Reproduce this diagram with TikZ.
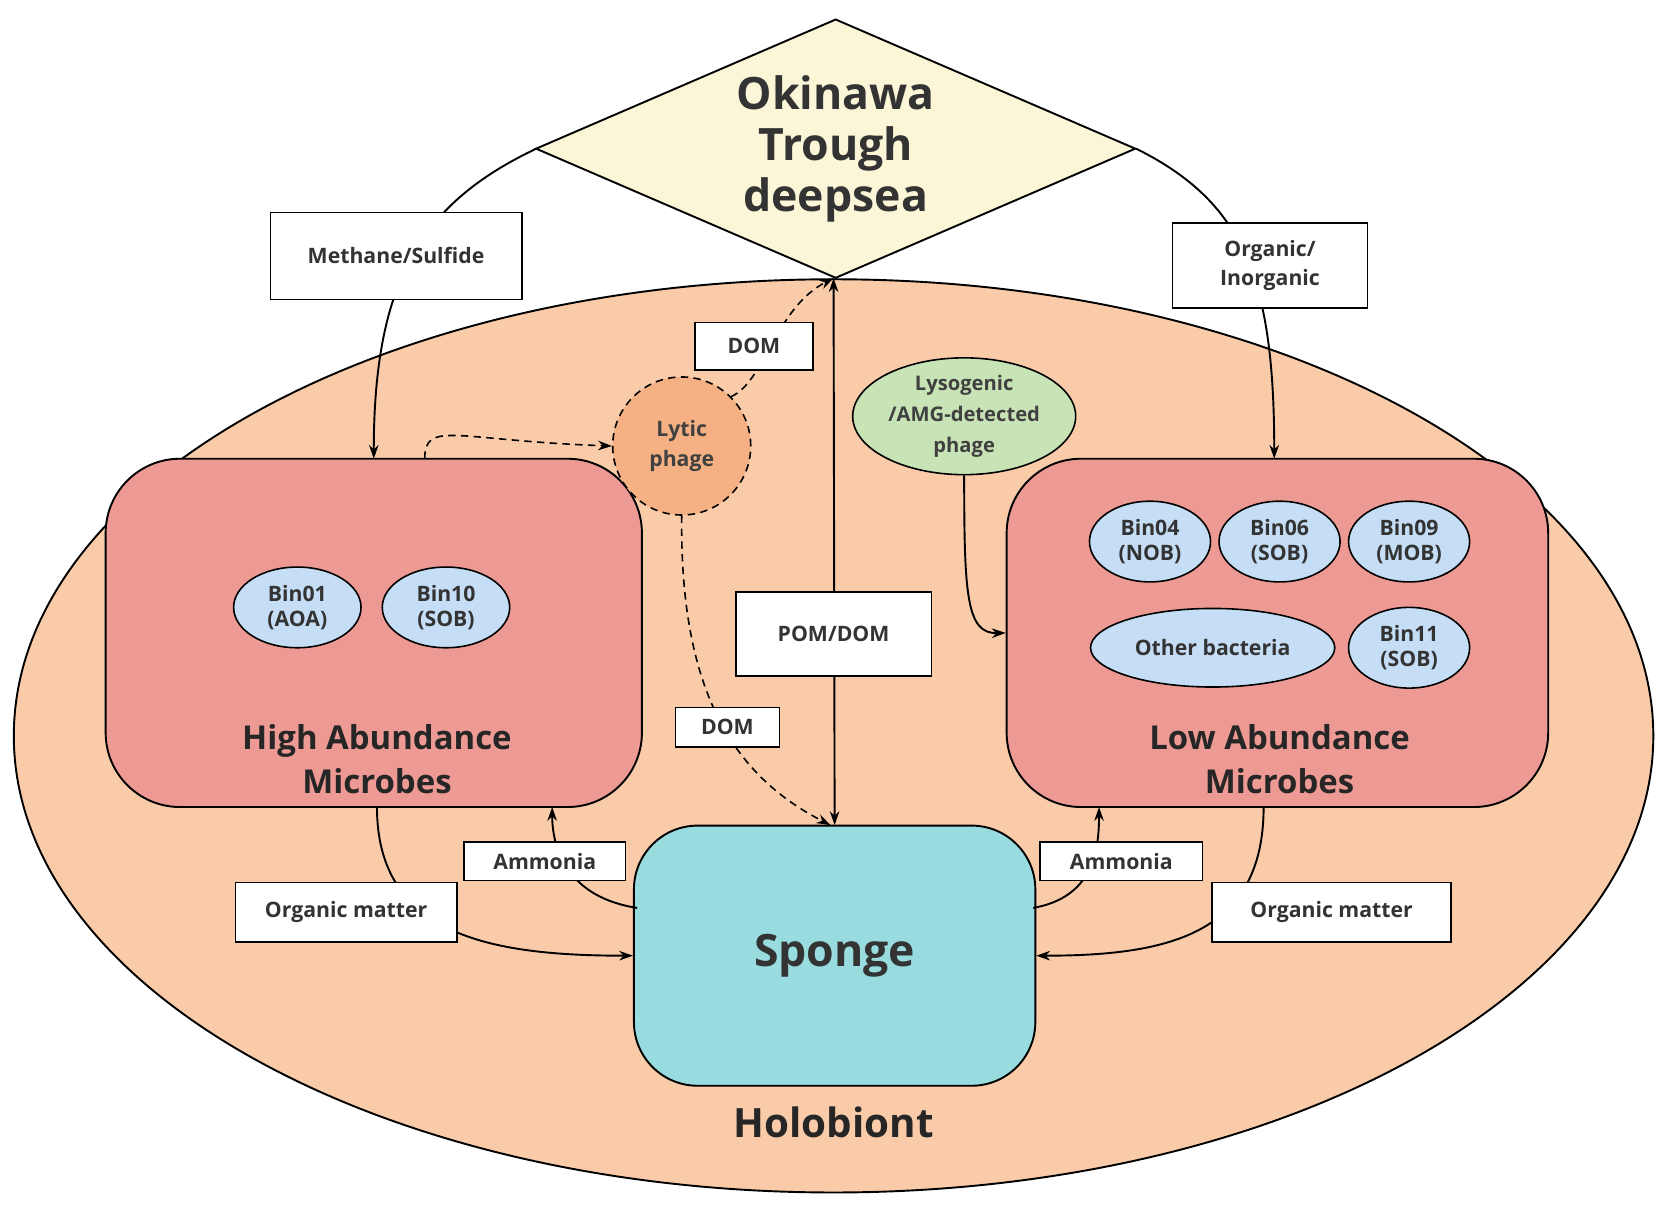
\documentclass[tikz,border=0pt]{standalone}
\usepackage{fontspec}
\setmainfont{Open Sans}
\usetikzlibrary{shapes.geometric,arrows.meta}
\definecolor{skin}{HTML}{F9CBA8}
\definecolor{boxred}{HTML}{EE9A94}
\definecolor{binblue}{HTML}{C5DDF5}
\definecolor{spng}{HTML}{98DCDF}
\definecolor{lytic}{HTML}{F5B183}
\definecolor{lyso}{HTML}{C8E4B6}
\definecolor{diam}{HTML}{FBF6D8}
\begin{document}
\begin{tikzpicture}[x=1pt,y=-1pt,line width=1.8pt,
  lab/.style={draw,fill=white,line width=1.3pt,font=\fontsize{20}{25}\selectfont\bfseries,text=black!80,inner sep=0pt,align=center},
  bin/.style={ellipse,draw,fill=binblue,line width=1.5pt,minimum width=120pt,minimum height=76pt,inner sep=0pt,align=center,font=\fontsize{20}{24}\selectfont\bfseries,text=black!80},
  arr/.style={-{Stealth[length=13pt,width=9pt]}},
  dsh/.style={dashed,dash pattern=on 7pt off 5pt,line width=1.5pt}]
\useasboundingbox (0,0) rectangle (1568,1140);
\node[ellipse,draw,fill=skin,minimum width=1544pt,minimum height=860pt] (holo) at (785,693) {};
\node[diamond,draw,fill=diam,minimum width=565pt,minimum height=244pt,inner sep=0pt] (ok) at (787,140) {};
\node[font=\fontsize{42}{48}\selectfont\bfseries,text=black!80,align=center] (okt) at (787,140) {Okinawa\\Trough\\deepsea};
\node[draw,fill=boxred,rounded corners=70pt,minimum width=505pt,minimum height=328pt] (high) at (352,596) {};
\node[draw,fill=boxred,rounded corners=70pt,minimum width=510pt,minimum height=328pt] (low) at (1203,596) {};
\node[draw,fill=spng,rounded corners=60pt,minimum width=378pt,minimum height=245pt] (sp) at (786,900) {};
\node[font=\fontsize{42}{48}\selectfont\bfseries,text=black!80] (spt) at (786,900) {Sponge};
\node[font=\fontsize{38}{44}\selectfont\bfseries,text=black!85] (hb) at (785,1057) {Holobiont};
\node[font=\fontsize{31}{42}\selectfont\bfseries,text=black!85,align=center] (hl) at (355,715) {High Abundance\\Microbes};
\node[font=\fontsize{31}{42}\selectfont\bfseries,text=black!85,align=center] (ll) at (1205,715) {Low Abundance\\Microbes};
\node[bin] (b01) at (280,572) {Bin01\\(AOA)};
\node[bin] (b10) at (420,572) {Bin10\\(SOB)};
\node[bin,minimum width=114pt] (b04) at (1083,510) {Bin04\\(NOB)};
\node[bin,minimum width=114pt] (b06) at (1205,510) {Bin06\\(SOB)};
\node[bin,minimum width=114pt] (b09) at (1327,510) {Bin09\\(MOB)};
\node[bin,minimum width=230pt,minimum height=74pt] (oth) at (1142,610) {Other bacteria};
\node[bin,minimum width=114pt] (b11) at (1327,610) {Bin11\\(SOB)};
\node[circle,draw,dsh,fill=lytic,minimum size=130pt,inner sep=0pt,align=center,font=\fontsize{20}{28}\selectfont\bfseries,text=black!75] (ly) at (642,420) {Lytic\\phage};
\node[ellipse,draw,fill=lyso,line width=1.5pt,minimum width=210pt,minimum height=110pt,inner sep=0pt,align=center,font=\fontsize{19}{29}\selectfont\bfseries,text=black!75] (lg) at (908,392) {Lysogenic\\/AMG-detected\\phage};
% connectors
\coordinate (okw) at (505,140); \coordinate (oke) at (1070,140); \coordinate (oks) at (785,262);
\coordinate (hin) at (352,432); \coordinate (lin) at (1200,432);
\draw[arr] (okw) .. controls (400,190) and (352,260) .. (hin);
\draw[arr] (oke) .. controls (1170,190) and (1200,260) .. (lin);
\draw[{Stealth[length=13pt,width=9pt]}-{Stealth[length=13pt,width=9pt]}] (oks) -- (786,777);
\draw[dsh,arr] (400,432) .. controls (400,395) and (430,415) .. (ly.west);
\draw[dsh,arr] (ly.north east) .. controls (720,360) and (730,290) .. (oks);
\draw[dsh,arr] (ly.south) .. controls (640,650) and (690,730) .. (782,777);
\draw[arr] (lg.south) .. controls (908,560) and (910,597) .. (low.west);
\draw[arr] (355,760) .. controls (355,880) and (460,900) .. (sp.west);
\draw[arr] (1190,760) .. controls (1190,880) and (1100,900) .. (sp.east);
\draw[arr] (600,855) .. controls (535,845) and (520,800) .. (520,760);
\draw[arr] (973,855) .. controls (1030,845) and (1035,800) .. (1035,760);
% labels
\node[lab,minimum width=237pt,minimum height=82pt] (ms) at (373,241) {Methane/Sulfide};
\node[lab,minimum width=184pt,minimum height=80pt,font=\fontsize{20}{27}\selectfont\bfseries] (oi) at (1196,250) {Organic/\\Inorganic};
\node[lab,minimum width=111pt,minimum height=45pt] (dom1) at (710,326) {DOM};
\node[lab,minimum width=184pt,minimum height=79pt] (pd) at (785,597) {POM/DOM};
\node[lab,minimum width=98pt,minimum height=37pt] (dom2) at (685,685) {DOM};
\node[lab,minimum width=152pt,minimum height=36pt] (am1) at (513,811) {Ammonia};
\node[lab,minimum width=153pt,minimum height=36pt] (am2) at (1056,811) {Ammonia};
\node[lab,minimum width=209pt,minimum height=56pt] (om1) at (326,859) {Organic matter};
\node[lab,minimum width=225pt,minimum height=56pt] (om2) at (1254,859) {Organic matter};
\end{tikzpicture}
\end{document}
